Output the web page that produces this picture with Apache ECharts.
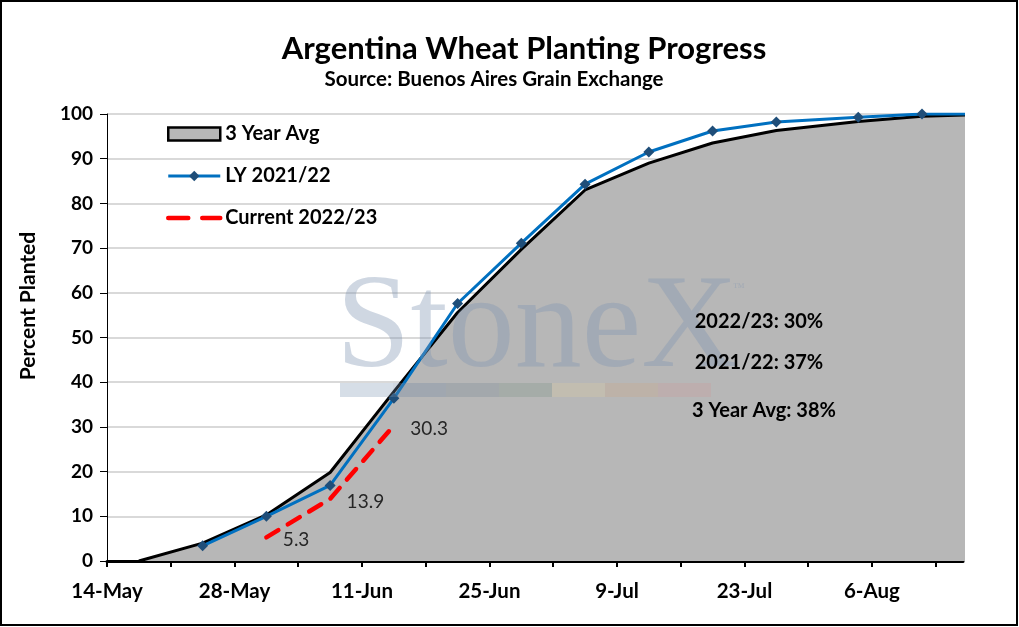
<!DOCTYPE html>
<html>
<head>
<meta charset="utf-8">
<script src="https://cdn.jsdelivr.net/npm/echarts@6/dist/echarts.min.js"></script>
<style>
  html, body { margin: 0; padding: 0; background: #fff; }
  #chart { width: 1019px; height: 627px; }
</style>
</head>
<body>
<div id="chart"></div>
<script>
// weekly report dates and % planted
const dates = ['2022-05-17', '2022-05-24', '2022-05-31', '2022-06-07', '2022-06-14', '2022-06-21',
  '2022-06-28', '2022-07-05', '2022-07-12', '2022-07-19', '2022-07-26', '2022-08-04',
  '2022-08-11', '2022-08-18'];
const avg3yr = [0, 4.0, 10.3, 19.8, 37.9, 55.6, 69.7, 83.0, 89.0, 93.5, 96.3, 98.3, 99.5, 99.9];
const ly2122 = [null, 3.4, 10.0, 16.9, 36.4, 57.6, 71.1, 84.3, 91.5, 96.2, 98.2, 99.3, 100, 100];
const cur2223 = [null, null, 5.3, 13.9, 30.3, null, null, null, null, null, null, null, null, null];

const tickLabels = ['14-May', '28-May', '11-Jun', '25-Jun', '9-Jul', '23-Jul', '6-Aug'];
const notes = ['2022/23: 30%', '2021/22: 37%', '3 Year Avg: 38%'];

const axisStart = Date.UTC(2022, 4, 14);
const DAY = 86400000;
// Excel date axis puts each point in the middle of its day slot
const xOf = (d) => (Date.parse(d + 'T00:00:00Z') - axisStart) / DAY + 0.5;
const pairs = (vals) => dates.map((d, i) => [xOf(d), vals[i]]);

const weekTicks = [0, 7, 14, 21, 28, 35, 42, 49, 56, 63, 70, 77, 84, 91];
const labelTicks = tickLabels.map((_, i) => i * 14);

const FONT = 'Lato';
const chart = echarts.init(document.getElementById('chart'), null, { renderer: 'canvas' });

const wmColors = ['#7f97b5', '#6f86a3', '#7a8a96', '#7f948a', '#d9c9a3', '#c9a98a', '#c99a9a'];

chart.setOption({
  animation: false,
  textStyle: { fontFamily: FONT },
  title: [
    {
      text: 'Argentina Wheat Planting Progress',
      left: 519,
      top: 28,
      textAlign: 'center',
      textStyle: { fontFamily: FONT, fontSize: 31, fontWeight: 'bold', color: '#000' }
    },
    {
      text: 'Source: Buenos Aires Grain Exchange',
      left: 489,
      top: 64,
      textAlign: 'center',
      textStyle: { fontFamily: FONT, fontSize: 20.5, fontWeight: 'bold', color: '#000' }
    }
  ],
  grid: { left: 107, right: 56, top: 114, bottom: 66 },
  legend: {
    orient: 'vertical',
    left: 161,
    top: 119,
    itemWidth: 52,
    itemHeight: 13,
    itemGap: 22,
    textStyle: { fontFamily: FONT, fontSize: 20, fontWeight: 'bold', color: '#000' },
    data: [
      { name: '3 Year Avg', icon: 'rect', itemStyle: { color: '#b7b7b7', borderColor: '#000', borderWidth: 2.5 } },
      { name: 'LY 2021/22', lineStyle: { width: 3 } },
      { name: 'Current 2022/23', lineStyle: { type: [20, 14], width: 4.5 } }
    ]
  },
  xAxis: {
    type: 'value',
    min: 0,
    max: 94,
    interval: 7,
    splitLine: { show: false },
    axisLine: { lineStyle: { color: '#000', width: 3 } },
    axisTick: { show: true, length: 6, customValues: weekTicks, lineStyle: { color: '#000', width: 2 } },
    axisLabel: {
      margin: 20,
      customValues: labelTicks,
      fontFamily: FONT,
      fontSize: 20.5,
      fontWeight: 'bold',
      color: '#000',
      formatter: (v) => tickLabels[Math.round(v / 14)] || ''
    }
  },
  yAxis: {
    type: 'value',
    min: 0,
    max: 100,
    interval: 10,
    axisLine: { show: true, lineStyle: { color: '#000', width: 1 } },
    axisTick: { show: true, length: 7, lineStyle: { color: '#000' } },
    splitLine: { lineStyle: { color: '#d9d9d9', width: 2 } },
    axisLabel: { margin: 14, fontFamily: FONT, fontSize: 19, fontWeight: 'bold', color: '#000' }
  },
  series: [
    {
      name: '3 Year Avg',
      type: 'line',
      data: pairs(avg3yr),
      showSymbol: false,
      symbol: 'none',
      lineStyle: { color: '#000', width: 3 },
      itemStyle: { color: '#b7b7b7', borderColor: '#000' },
      areaStyle: { color: '#b7b7b7', opacity: 1 },
      z: 1
    },
    {
      name: 'LY 2021/22',
      type: 'line',
      data: pairs(ly2122),
      connectNulls: false,
      symbol: 'diamond',
      symbolSize: 11,
      lineStyle: { color: '#0070c0', width: 3 },
      itemStyle: { color: '#1f4e79' },
      z: 3
    },
    {
      name: 'Current 2022/23',
      type: 'line',
      data: pairs(cur2223),
      symbol: 'circle',
      symbolSize: 1,
      showSymbol: true,
      lineStyle: { color: '#ff0000', width: 4.5, type: [14, 11], cap: 'round' },
      itemStyle: { color: 'rgba(0,0,0,0)' },
      label: {
        show: true,
        position: 'right',
        distance: 16,
        offset: [0, 3],
        fontFamily: FONT,
        fontSize: 19,
        color: '#262626',
        formatter: (p) => p.value[1].toFixed(1)
      },
      z: 4
    }
  ],
  graphic: [
    {
      type: 'rect',
      shape: { x: 1, y: 1, width: 1016, height: 624 },
      style: { fill: 'none', stroke: '#000', lineWidth: 2 },
      silent: true,
      z: 200
    },
    {
      type: 'text',
      x: 28,
      y: 306,
      rotation: Math.PI / 2,
      style: {
        text: 'Percent Planted',
        font: 'bold 21px ' + FONT,
        fill: '#000',
        textAlign: 'center',
        textVerticalAlign: 'middle'
      }
    },
    {
      type: 'text',
      x: 336,
      y: 331,
      style: {
        text: 'StoneX',
        font: '134px "Liberation Serif"',
        fill: 'rgba(130,150,178,0.38)',
        textAlign: 'left',
        textVerticalAlign: 'middle'
      },
      silent: true,
      z: 50
    },
    {
      type: 'text',
      x: 733,
      y: 282,
      style: { text: '™', font: '12px "Liberation Serif"', fill: 'rgba(130,150,178,0.38)' },
      silent: true,
      z: 50
    },
    ...wmColors.map((c, i) => ({
      type: 'rect',
      shape: { x: 340 + i * 53, y: 383, width: 53, height: 14 },
      style: { fill: c, opacity: 0.32 },
      silent: true,
      z: 50
    })),
    ...notes.map((t, i) => ({
      type: 'text',
      x: i === 2 ? 764 : 759,
      y: [322, 363, 411][i],
      style: {
        text: t,
        font: 'bold 20px ' + FONT,
        fill: '#000',
        textAlign: 'center',
        textVerticalAlign: 'middle'
      },
      z: 60
    }))
  ]
});
</script>
</body>
</html>
